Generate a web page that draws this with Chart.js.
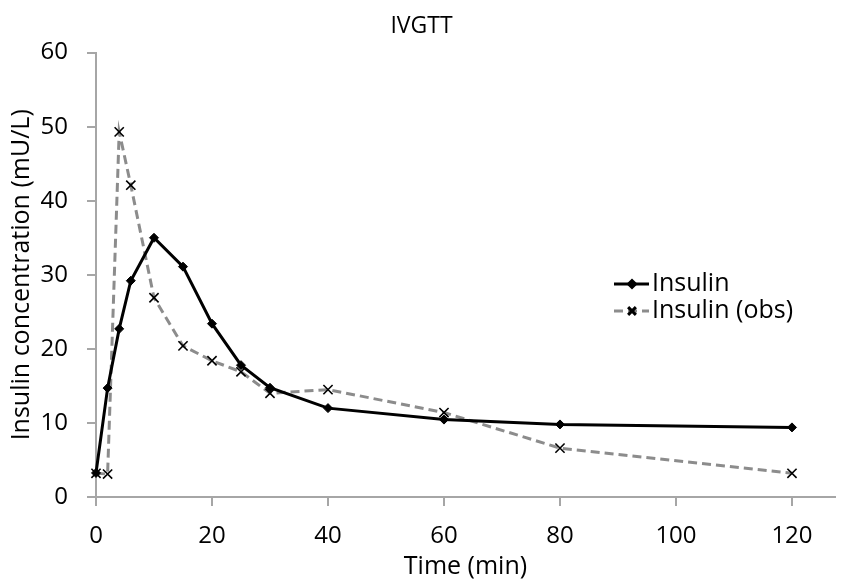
<!DOCTYPE html>
<html>
<head>
<meta charset="utf-8">
<script src="https://cdn.jsdelivr.net/npm/chart.js@4/dist/chart.umd.min.js"></script>
<style>
  html, body { margin: 0; padding: 0; background: #fff; }
  #wrap { width: 843px; height: 584px; position: relative; }
</style>
</head>
<body>
<div id="wrap"><canvas id="chart"></canvas></div>
<script>
// values
const times = [0, 2, 4, 6, 10, 15, 20, 25, 30, 40, 60, 80, 120];
const insulin = [3.25, 14.7, 22.7, 29.2, 35.0, 31.1, 23.4, 17.8, 14.75, 12.0, 10.45, 9.8, 9.4];
const insulinObs = [3.2, 3.1, 49.3, 42.1, 26.9, 20.4, 18.4, 16.9, 14.0, 14.5, 11.4, 6.6, 3.2];
const seriesNames = ["Insulin", "Insulin (obs)"];
const xTicks = [0, 20, 40, 60, 80, 100, 120];

const FONT = "'Open Sans', 'Noto Sans', sans-serif";
const AXIS_GREY = "#a6a6a6";

const toPoints = (ys) => times.map((t, i) => ({x: t, y: ys[i]}));

// legend drawn inside the plot, to the right like the original
const legendPlugin = {
  id: "insideLegend",
  afterDatasetsDraw(chart){
    const ctx = chart.ctx;
    const items = [
      {ds: chart.data.datasets[0], y: 284},
      {ds: chart.data.datasets[1], y: 311}
    ];
    ctx.save();
    items.forEach((it) => {
      const ds = it.ds;
      ctx.beginPath();
      ctx.strokeStyle = ds.borderColor;
      ctx.lineWidth = ds.borderWidth;
      ctx.setLineDash(ds.borderDash || []);
      ctx.moveTo(614, it.y);
      ctx.lineTo(649, it.y);
      ctx.stroke();
      ctx.setLineDash([]);
      ctx.fillStyle = "#000";
      ctx.strokeStyle = "#000";
      Chart.helpers.drawPoint(ctx, {
        pointStyle: ds.pointStyle,
        radius: ds.pointRadius - 1,
        borderWidth: ds.pointBorderWidth
      }, 632, it.y);
      ctx.font = "25px " + FONT;
      ctx.textBaseline = "middle";
      ctx.textAlign = "left";
      ctx.fillText(ds.label, 652, it.y);
    });
    ctx.restore();
  }
};

const chart = new Chart(document.getElementById("chart"), {
  type: "line",
  data: {
    datasets: [
      {
        label: seriesNames[0],
        data: toPoints(insulin),
        borderColor: "#000",
        backgroundColor: "#000",
        borderWidth: 3,
        pointStyle: "rectRot",
        pointRadius: 4.5,
        pointBorderWidth: 1,
        pointBackgroundColor: "#000",
        pointBorderColor: "#000",
        tension: 0,
        clip: false
      },
      {
        label: seriesNames[1],
        data: toPoints(insulinObs),
        borderColor: "#8c8c8c",
        backgroundColor: "#000",
        borderWidth: 3,
        borderDash: [9, 5],
        pointStyle: "crossRot",
        pointRadius: 6.5,
        pointBorderWidth: 1.6,
        pointBackgroundColor: "#000",
        pointBorderColor: "#000",
        tension: 0,
        clip: false
      }
    ]
  },
  options: {
    responsive: true,
    maintainAspectRatio: false,
    animation: false,
    layout: { padding: 0 },
    plugins: {
      legend: { display: false },
      tooltip: { enabled: false },
      title: {
        display: true,
        text: "IVGTT",
        color: "#000",
        font: { family: FONT, size: 23, weight: "normal" },
        padding: { top: 13, bottom: 12 }
      }
    },
    scales: {
      x: {
        type: "linear",
        min: 0,
        max: 127.4,
        afterBuildTicks: (scale) => {
          scale.ticks = xTicks.map(v => ({value: v}));
        },
        afterFit: (scale) => { scale.height = 87; },
        grid: {
          drawOnChartArea: false,
          drawTicks: true,
          tickLength: 9,
          color: AXIS_GREY,
          lineWidth: 2
        },
        border: { display: true, color: AXIS_GREY, width: 2 },
        ticks: {
          color: "#000",
          padding: 16,
          maxRotation: 0,
          font: { family: FONT, size: 24 }
        },
        title: {
          display: true,
          text: "Time (min)",
          color: "#000",
          font: { family: FONT, size: 25 },
          padding: { top: 0, bottom: 2 }
        }
      },
      y: {
        min: 0,
        max: 60,
        afterFit: (scale) => { scale.width = 96; },
        grid: {
          drawOnChartArea: false,
          drawTicks: true,
          tickLength: 9,
          color: AXIS_GREY,
          lineWidth: 2
        },
        border: { display: true, color: AXIS_GREY, width: 2 },
        ticks: {
          color: "#000",
          stepSize: 10,
          padding: 19,
          font: { family: FONT, size: 24 }
        },
        title: {
          display: true,
          text: "Insulin concentration (mU/L)",
          color: "#000",
          font: { family: FONT, size: 25 },
          padding: { top: 7, bottom: 0 }
        }
      }
    }
  },
  plugins: [legendPlugin]
});
</script>
</body>
</html>
